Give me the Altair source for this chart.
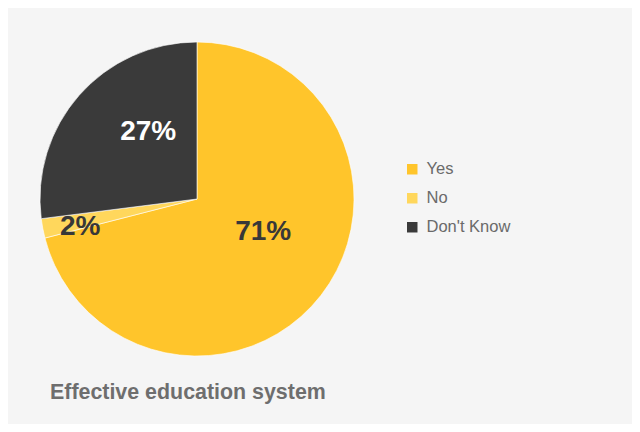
import altair as alt
import pandas as pd

categories = ["Yes", "No", "Don't Know"]
values = [71, 2, 27]
labels = ["71%", "2%", "27%"]
colors = ["#ffc52b", "#ffd75c", "#3a3a3a"]
order = [0, 1, 2]

df = pd.DataFrame({"cat": categories, "value": values, "label": labels, "idx": order})

FONT = "Liberation Sans"

base = alt.Chart(df)

arc = base.mark_arc(outerRadius=157, stroke="#ffffff", strokeWidth=0.6).encode(
    theta=alt.Theta("value:Q", stack=True),
    color=alt.Color(
        "cat:N",
        scale=alt.Scale(domain=categories, range=colors),
        sort=categories,
        legend=alt.Legend(
            title=None,
            orient="none",
            legendX=396,
            legendY=153,
            padding=0,
            symbolType="square",
            symbolSize=110,
            symbolStrokeWidth=0,
            labelFont=FONT,
            labelFontSize=16.5,
            labelColor="#6a6a6a",
            labelOffset=6,
            rowPadding=12,
        ),
    ),
    order=alt.Order("idx:Q"),
)

lab = base.transform_window(
    cum="sum(value)", sort=[alt.SortField("idx")]
).transform_calculate(mid="datum.cum - datum.value / 2")


def label_layer(cat, r, dx, dy, color):
    return lab.transform_filter(alt.datum.cat == cat).mark_text(
        radius=r, dx=dx, dy=dy, font=FONT, fontSize=28, fontWeight="bold", color=color
    ).encode(theta=alt.Theta("mid:Q"), text="label:N")


chart = alt.layer(
    arc,
    label_layer("Yes", 80, 3, -16, "#383838"),
    label_layer("Don't Know", 85, 15, -11, "#ffffff"),
    label_layer("No", 120, 1, 6, "#383838"),
).properties(
    width=378,
    height=382,
    autosize=alt.AutoSizeParams(type="none"),
    padding={"left": 0, "top": 0, "right": 246, "bottom": 34},
    background="#f5f5f5",
    title=alt.TitleParams(
        "Effective education system",
        orient="bottom",
        anchor="start",
        dx=42,
        offset=9,
        baseline="alphabetic",
        font=FONT,
        fontSize=21.4,
        fontWeight="bold",
        color="#6e6e6e",
    ),
).configure_view(strokeWidth=0)

chart.save("out.html", embed_options={"renderer": "svg", "actions": False})
